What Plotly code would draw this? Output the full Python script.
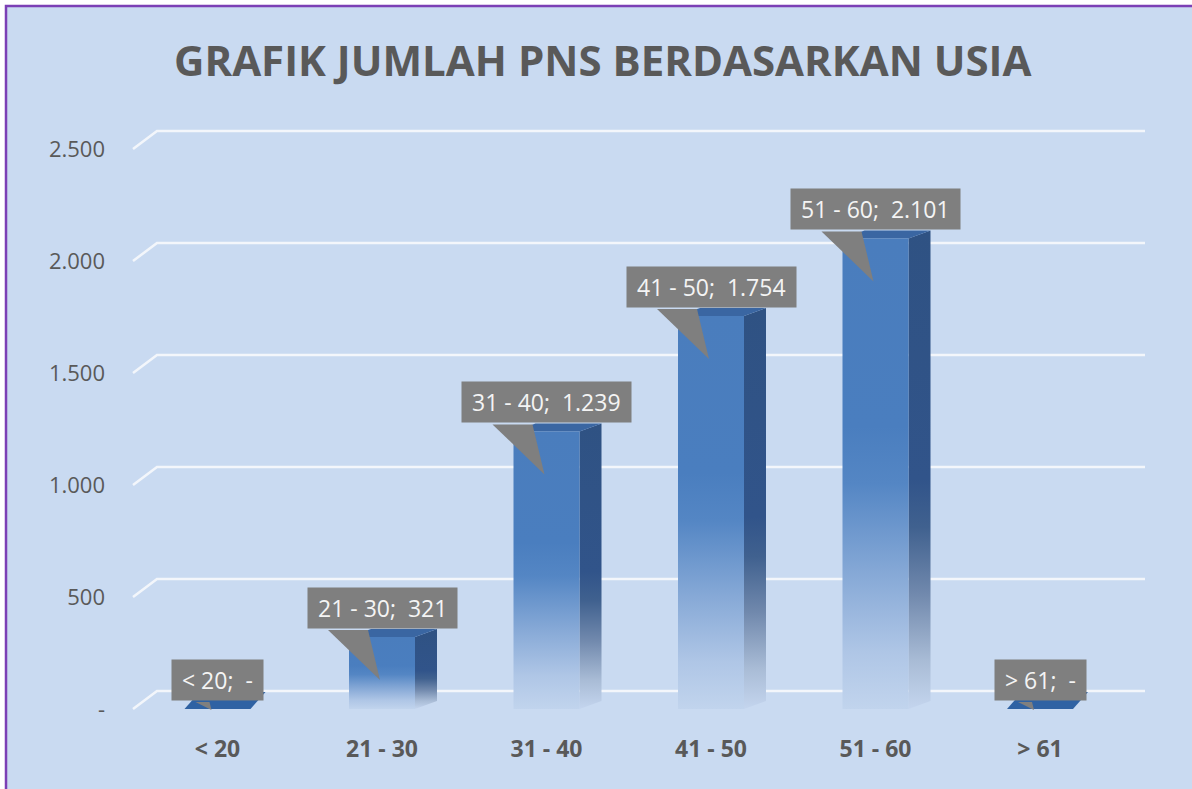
import plotly.graph_objects as go

# ---------------- data ----------------
categories = ["< 20", "21 - 30", "31 - 40", "41 - 50", "51 - 60", "> 61"]
values = [0, 321, 1239, 1754, 2101, 0]
y_ticks = [0, 500, 1000, 1500, 2000, 2500]
title_text = "GRAFIK JUMLAH PNS BERDASARKAN USIA"


def fmt(v):
    return "-" if v == 0 else f"{v:,}".replace(",", ".")


def esc(s):
    return s.replace("<", "&lt;").replace(">", "&gt;")


# ---------------- geometry (pixel layout of the plot area) ----------------
W, H = 1192, 789
L, R, T, B = 120, 1172, 90, 729       # plot area in pixels
Y0 = 709                               # pixel row of value 0 (front plane)
K = 0.224                              # pixels per unit on the value axis
C0, STEP = 217.5, 164.5                # pixel x of first category, spacing

yr = [-(B - Y0) / K, (Y0 - T) / K]
xr = [(L - C0) / STEP, (R - C0) / STEP]


def X(px):
    return (px - C0) / STEP


def DX(px):
    return px / STEP


def DY(px):
    return px / K


def XP(px):
    return (px - L) / (R - L)


def YP(py):
    return (B - py) / (B - T)


BG = "#C9DAF1"
TXT = "#595959"
FONT = "Open Sans"

front_cs = [[0, "#C1D4ED"], [0.12, "#AFC6E6"], [0.28, "#88AAD7"],
            [0.48, "#5486C4"], [0.6, "#4A7EBF"], [1, "#4A7DBD"]]
side_cs = [[0, "#C4D5EE"], [0.1, "#A9BCD6"], [0.24, "#7189AD"],
           [0.38, "#40618F"], [0.48, "#31548A"], [1, "#2F5283"]]
TOP_COLOR = "#3A66A2"
FLAT_COLOR = "#2F62A3"
CALLOUT = "#7F7F7F"

fig = go.Figure()

shapes = []
# chart area background + purple frame
shapes.append(dict(type="rect", xref="paper", yref="paper",
                   x0=XP(6), x1=XP(1210), y0=YP(6), y1=YP(810),
                   fillcolor=BG, line=dict(color="#7B3FB5", width=2.5),
                   layer="below"))
# gridlines on back wall with slanted side-wall segment
for t in y_ticks:
    d = DY(18)
    shapes.append(dict(type="path", xref="x", yref="y",
                       path=f"M {X(133)},{t} L {X(157)},{t + d} L {X(1145)},{t + d}",
                       line=dict(color="#F3F6FB", width=2.5), layer="below"))

bw = DX(66)
for i, v in enumerate(values):
    x0, x1 = i - bw / 2, i + bw / 2
    common = dict(mode="lines", line=dict(width=0), fill="toself",
                  hoverinfo="skip", showlegend=False)
    if v > 0:
        ddx, ddy = DX(22), DY(8)
        # side face
        fig.add_trace(go.Scatter(
            x=[x1, x1 + ddx, x1 + ddx, x1, x1], y=[0, ddy, v + ddy, v, 0],
            fillgradient=dict(type="vertical", start=0, stop=v + ddy, colorscale=side_cs),
            **common))
        # top face
        fig.add_trace(go.Scatter(
            x=[x0, x1, x1 + ddx, x0 + ddx, x0], y=[v, v, v + ddy, v + ddy, v],
            fillcolor=TOP_COLOR, **common))
        # front face
        fig.add_trace(go.Scatter(
            x=[x0, x1, x1, x0, x0], y=[0, 0, v, v, 0],
            fillgradient=dict(type="vertical", start=0, stop=v, colorscale=front_cs),
            **common))
    else:
        ddx, ddy = DX(15), DY(17)
        fig.add_trace(go.Scatter(
            x=[x0, x1, x1 + ddx, x0 + ddx, x0], y=[v, v, v + ddy, v + ddy, v],
            fillcolor=FLAT_COLOR, **common))

annotations = []
for i, (c, v) in enumerate(zip(categories, values)):
    by = v + DY(7)
    if v > 0:
        bl, br_, tx, ty = i + DX(-54), i + DX(-14), i + DX(-2), v - DY(43)
    else:
        bl, br_, tx, ty = i + DX(-22), i + DX(-8), i + DX(-6), v - DY(1)
    shapes.append(dict(type="path", xref="x", yref="y",
                       path=f"M {bl},{by} L {br_},{by} L {tx},{ty} Z",
                       fillcolor=CALLOUT, line=dict(width=0), layer="above"))
    annotations.append(dict(
        x=i, y=v, xref="x", yref="y", yanchor="bottom", yshift=8,
        text="&nbsp;" + esc(c) + ";&nbsp; " + fmt(v) + "&nbsp;",
        showarrow=False, bgcolor=CALLOUT, borderpad=4,
        font=dict(family=FONT, size=23, color="#F4F4F4")))

annotations.append(dict(
    x=XP(603), y=YP(60), xref="paper", yref="paper",
    xanchor="center", yanchor="middle", showarrow=False,
    text="<b>" + title_text + "</b>",
    font=dict(family=FONT, size=42, color=TXT)))

fig.update_layout(
    width=W, height=H,
    margin=dict(l=L, r=W - R, t=T, b=H - B, pad=0),
    paper_bgcolor="white", plot_bgcolor="rgba(0,0,0,0)",
    shapes=shapes, annotations=annotations, showlegend=False,
    xaxis=dict(range=xr, showgrid=False, zeroline=False, showline=False,
               tickmode="array", tickvals=list(range(len(categories))),
               ticktext=["<b>" + esc(c) + "</b>" for c in categories],
               tickfont=dict(family=FONT, size=23, color=TXT),
               ticks="", ticklabelstandoff=4, fixedrange=True),
    yaxis=dict(range=yr, showgrid=False, zeroline=False, showline=False,
               tickmode="array", tickvals=y_ticks,
               ticktext=[fmt(t) for t in y_ticks],
               tickfont=dict(family=FONT, size=22, color=TXT),
               ticks="", ticklabelstandoff=14, fixedrange=True),
)

fig.write_html("out.html", config={"displayModeBar": False},
               post_script="document.body.style.margin='0';")
